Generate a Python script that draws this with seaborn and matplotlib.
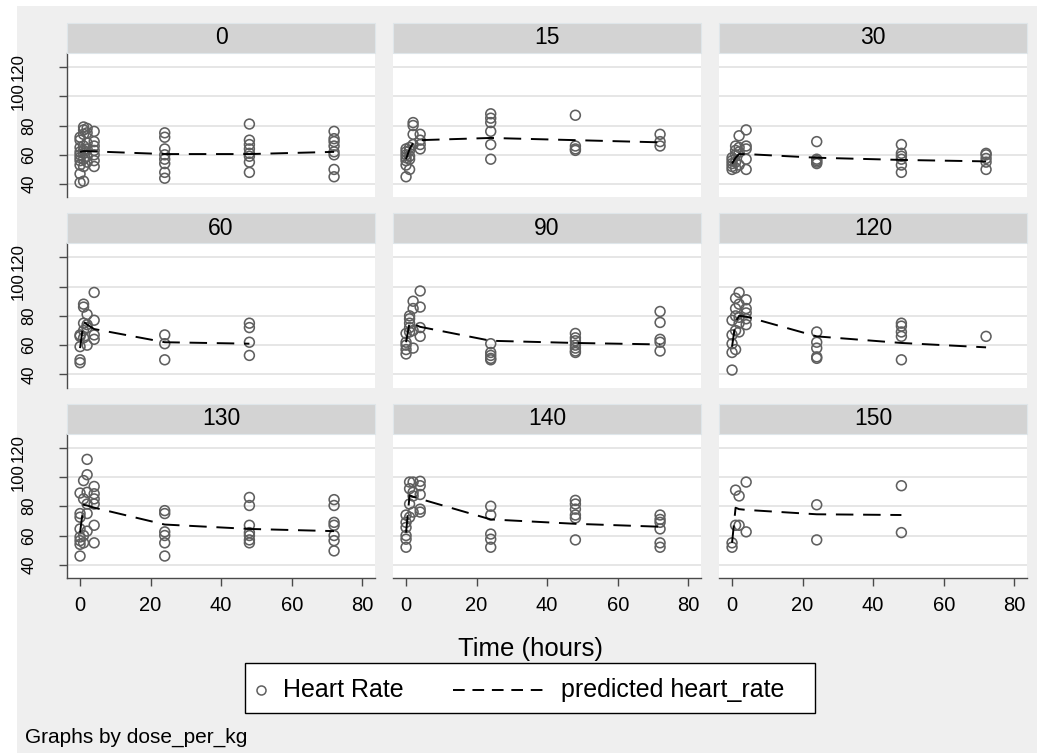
import numpy as np
import pandas as pd
import seaborn as sns
import matplotlib.pyplot as plt
from matplotlib.patches import Rectangle
from matplotlib.lines import Line2D
from matplotlib.transforms import ScaledTranslation

# doses (panels) and sampling times
doses = [0, 15, 30, 60, 90, 120, 130, 140, 150]
obs_times = [0, 1, 2, 4, 24, 48, 72]

hr_0 = [[41, 47, 53, 56, 58, 60, 62, 65, 70, 72], [42, 52, 57, 61, 63, 66, 74, 77, 79],
        [55, 59, 64, 68, 75, 78], [52, 56, 60, 63, 66, 69, 76],
        [75, 72, 64, 60, 57, 54, 48, 44], [81, 70, 67, 64, 61, 59, 55, 48],
        [76, 71, 69, 66, 62, 60, 50, 45]]
hr_15 = [[45, 53, 56, 58, 60, 62, 64], [50, 57, 59, 63, 65], [67, 74, 80, 82],
         [64, 67, 70, 74], [88, 85, 82, 76, 67, 57], [87, 66, 64, 63], [74, 69, 66]]
hr_30 = [[50, 52, 54, 56, 58], [51, 55, 60, 63, 66], [53, 62, 65, 73],
         [50, 57, 64, 66, 77], [69, 57, 55, 54, 56], [67, 61, 59, 57, 53, 48],
         [61, 60, 57.5, 55, 50]]
hr_60 = [[48, 50, 59, 66, 67], [75, 86, 88, 70, 65], [60, 72, 81, 74],
         [64, 67, 77, 96], [67, 61, 50], [75, 72, 62, 53], []]
hr_90 = [[54, 57, 60, 62, 68], [72, 75, 78, 80, 69], [58, 70, 85, 90],
         [66, 72, 86, 97], [61, 55, 53, 51, 50], [68, 65, 63, 60, 58, 56, 55],
         [83, 75.5, 64, 62, 56]]
hr_120 = [[43, 55, 61, 67, 77], [57, 70, 85, 92, 80], [96, 79, 69, 75, 88],
          [91, 85, 82, 74, 78], [69, 62, 58, 52, 51], [75, 73, 69, 66, 50], [66]]
hr_130 = [[46, 54, 56.5, 59, 64.5, 72.5, 75, 89], [97.5, 85, 60, 55],
          [112, 101.5, 89.5, 81.5, 75, 63], [93.5, 88.5, 85, 81.5, 67, 55],
          [77, 75, 62.5, 60, 55, 46], [86, 80.5, 67, 62, 60, 57, 55],
          [84.5, 80.5, 69, 67, 60, 56.5, 49.5]]
hr_140 = [[52, 57.5, 60, 65.5, 69, 74], [81.5, 92, 96.5, 72.5], [96.5, 89.5, 87, 76],
          [97, 94, 88, 78, 76], [80, 74, 61, 57.5, 52], [84, 81.5, 78, 74, 72, 57],
          [74, 71, 69, 64.5, 55, 52]]
hr_150 = [[52, 55], [91, 67], [87, 67], [96.5, 62.5], [81, 57], [94, 62], []]

# predicted heart rate at obs_times
pred_0 = [62, 62.5, 62.5, 62.3, 60.5, 60.5, 62]
pred_15 = [57, 64, 68, 70, 71.5, 70, 68.5]
pred_30 = [54, 58, 60.5, 60.5, 58, 56.5, 55.5]
pred_60 = [58, 76, 74, 71, 62, 61]
pred_90 = [62, 75.5, 74.5, 72.5, 63, 61.5, 60.5]
pred_120 = [59, 76, 80, 79.5, 66, 61.5, 58.5]
pred_130 = [62, 81, 80.5, 79, 67.5, 64.5, 63]
pred_140 = [62, 87.5, 86.5, 85, 71, 68, 66]
pred_150 = [55, 79, 78, 77.5, 74.5, 74]

hr_all = [hr_0, hr_15, hr_30, hr_60, hr_90, hr_120, hr_130, hr_140, hr_150]
pred_all = [pred_0, pred_15, pred_30, pred_60, pred_90, pred_120, pred_130, pred_140, pred_150]

rows = []
for d, groups in zip(doses, hr_all):
    for t, vals in zip(obs_times, groups):
        for v in vals:
            rows.append((d, t, v))
obs = pd.DataFrame(rows, columns=["dose", "time", "hr"])

prows = []
for d, vals in zip(doses, pred_all):
    for t, v in zip(obs_times, vals):
        prows.append((d, t, v))
pred = pd.DataFrame(prows, columns=["dose", "time", "hr"])

plt.rcParams["font.family"] = ["Liberation Sans", "DejaVu Sans"]

W, H = 1037, 753
g = sns.FacetGrid(obs, col="dose", col_wrap=3, col_order=doses, height=2.5, aspect=1.3,
                  despine=False)
g.map_dataframe(sns.scatterplot, x="time", y="hr", marker="o", s=50,
                facecolors="none", edgecolor="#5f5f5f", linewidth=1.15, zorder=3)
fig = g.figure
fig.set_size_inches(W / 100, H / 100)
fig.set_facecolor("white")
fig.subplots_adjust(left=67 / W, right=1027 / W, top=1 - 53 / H, bottom=1 - 578 / H,
                    wspace=18 / 308, hspace=46 / 144)

# gray graph region
fig.patches.append(Rectangle((17 / W, 0), 1 - 17 / W, 1 - 6 / H, transform=fig.transFigure,
                             facecolor="#efefef", edgecolor="none", zorder=-10))

for i, d in enumerate(doses):
    ax = g.axes_dict[d]
    sns.lineplot(data=pred[pred.dose == d], x="time", y="hr", ax=ax, color="black",
                 linewidth=1.4, linestyle=(0, (9, 5)), zorder=4)
    ax.set_facecolor("white")
    ax.set_xlim(-3.7, 83.6)
    ax.set_ylim(31, 129.5)
    ax.set_xticks([0, 20, 40, 60, 80])
    ax.set_yticks([40, 60, 80, 100, 120])
    ax.yaxis.grid(True, color="#e4e4e4", linewidth=1.3)
    ax.set_axisbelow(True)
    ax.set_xlabel("")
    ax.set_ylabel("")
    ax.set_title("")
    col, row = i % 3, i // 3
    for s in ["top", "right"]:
        ax.spines[s].set_visible(False)
    ax.spines["left"].set_visible(col == 0)
    ax.spines["bottom"].set_visible(row == 2)
    for s in ["left", "bottom"]:
        ax.spines[s].set_color("#4a4a4a")
        ax.spines[s].set_linewidth(1)
    ax.tick_params(axis="y", left=(col == 0), labelleft=(col == 0), length=6, width=1,
                   color="#4a4a4a", pad=16, labelsize=12)
    ax.tick_params(axis="x", bottom=(row == 2), labelbottom=(row == 2), length=6, width=1,
                   color="#4a4a4a", pad=7, labelsize=14.5)
    for lab in ax.get_yticklabels():
        lab.set_rotation(90)
        lab.set_va("center")
        if lab.get_text() in ("100", "120"):
            lab.set_transform(lab.get_transform() + ScaledTranslation(-8 / 72, 0, fig.dpi_scale_trans))
    # strip header
    pos = ax.get_position()
    fig.patches.append(Rectangle((pos.x0, pos.y1), pos.width, 30 / H, transform=fig.transFigure,
                                 facecolor="#d3d3d3", edgecolor="#dfe6ea", linewidth=0.8))
    fig.text(pos.x0 + pos.width / 2, pos.y1 + 15 / H, str(d), ha="center", va="center",
             fontsize=16.5)

fig.text(530 / W, 1 - 649 / H, "Time (hours)", ha="center", va="center", fontsize=18.5)

# legend box
fig.patches.append(Rectangle((245 / W, 1 - 713 / H), (815 - 245) / W, 50 / H,
                             transform=fig.transFigure, facecolor="white",
                             edgecolor="black", linewidth=1))
ly = 1 - 690 / H
fig.lines.append(Line2D([261 / W], [ly], transform=fig.transFigure, marker="o", markersize=6.5,
                        markerfacecolor="none", markeredgecolor="#5f5f5f", markeredgewidth=1.1))
fig.text(283 / W, ly, "Heart Rate", ha="left", va="center", fontsize=18)
fig.lines.append(Line2D([453 / W, 546 / W], [ly, ly], transform=fig.transFigure, color="black",
                        linewidth=1.4, linestyle=(0, (6, 4))))
fig.text(561 / W, ly, "predicted heart_rate", ha="left", va="center", fontsize=18)

fig.text(25 / W, 1 - 737 / H, "Graphs by dose_per_kg", ha="left", va="center", fontsize=15)

fig.savefig("out.png", dpi=100)
